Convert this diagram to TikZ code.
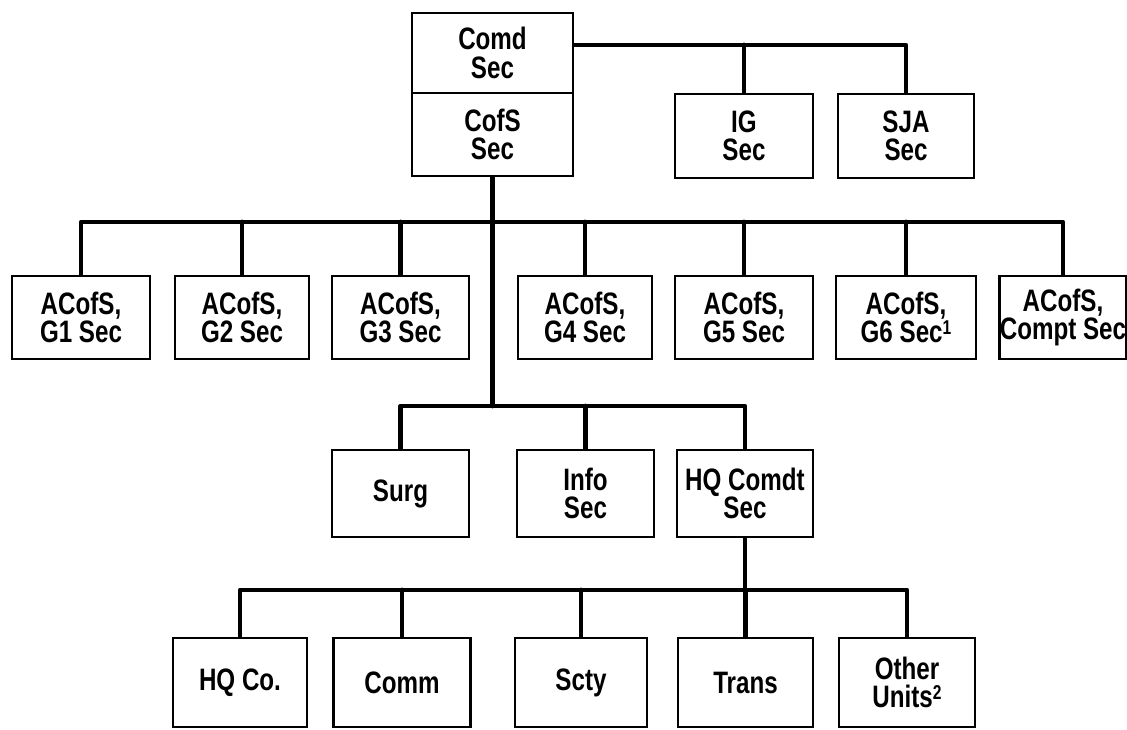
\documentclass[tikz,border=0pt]{standalone}
\usepackage{fontspec}
\setmainfont{Liberation Sans}[FakeStretch=0.78]
\newcommand{\supnum}[1]{\raisebox{8pt}{\fontsize{20}{20}\selectfont #1}}
\begin{document}
\begin{tikzpicture}[x=1pt,y=-1pt,
  box/.style={draw, line width=2.8pt, inner sep=0pt, align=center,
    font=\fontsize{31}{28.5}\selectfont\bfseries},
  conn/.style={line width=4.8pt, line cap=round, line join=round},
  growbox/.style={box, minimum height=83pt},
  lrowbox/.style={box, minimum height=87pt},
  browbox/.style={box, minimum height=89pt}]
\useasboundingbox (0,0) rectangle (1127,730);
% top
\node[box, minimum width=161pt, minimum height=80pt] (comd) at (492.5,53) {Comd\\Sec};
\node[box, minimum width=161pt, minimum height=83pt] (cofs) at (492.5,134.5) {CofS\\Sec};
\node[box, minimum width=138pt, minimum height=84pt] (ig) at (744,136) {IG\\Sec};
\node[box, minimum width=136pt, minimum height=84pt] (sja) at (906,136) {SJA\\Sec};
% G row
\node[growbox, minimum width=138pt] (g1) at (81,317.5) {ACofS,\\G1 Sec};
\node[growbox, minimum width=134pt] (g2) at (242,317.5) {ACofS,\\G2 Sec};
\node[growbox, minimum width=137pt] (g3) at (400.5,317.5) {ACofS,\\G3 Sec};
\node[growbox, minimum width=134pt] (g4) at (585,317.5) {ACofS,\\G4 Sec};
\node[growbox, minimum width=138pt] (g5) at (744,317.5) {ACofS,\\G5 Sec};
\node[growbox, minimum width=140pt] (g6) at (906,317.5) {ACofS,\\G6 Sec\supnum{1}};
\node[growbox, minimum width=126pt] (gc) at (1063,317.5) {ACofS,\\Compt Sec};
% lower row
\node[lrowbox, minimum width=137pt] (surg) at (400.5,493.5) {Surg};
\node[lrowbox, minimum width=137pt] (info) at (585.5,493.5) {Info\\Sec};
\node[lrowbox, minimum width=136pt] (hqc) at (745,493.5) {HQ Comdt\\Sec};
% bottom row
\node[browbox, minimum width=134pt] (hqco) at (240,682.5) {HQ Co.};
\node[browbox, minimum width=137pt] (comm) at (402,682.5) {Comm};
\node[browbox, minimum width=132pt] (scty) at (581,682.5) {Scty};
\node[browbox, minimum width=135pt] (trans) at (745.5,682.5) {Trans};
\node[browbox, minimum width=136pt] (other) at (907,682.5) {Other\\Units\supnum{2}};
% bus coordinates
\coordinate (bustop) at (0,45);
\coordinate (bus1) at (0,222);
\coordinate (bus2) at (0,406);
\coordinate (bus3) at (0,590);
% connectors
\draw[conn] (comd.east |- bustop) -| (sja.north);
\draw[conn] (ig.north) -- (ig.north |- bustop);
\draw[conn] (cofs.south) -- (cofs.south |- bus2);
\draw[conn] (g1.north) |- (gc.north |- bus1) -- (gc.north);
\foreach \n in {g2,g3,g4,g5,g6} \draw[conn] (\n.north) -- (\n.north |- bus1);
\draw[conn] (surg.north) |- (hqc.north |- bus2) -- (hqc.north);
\draw[conn] (info.north) -- (info.north |- bus2);
\draw[conn] (hqc.south) -- (hqc.south |- bus3);
\draw[conn] (hqco.north) |- (other.north |- bus3) -- (other.north);
\foreach \n in {comm,scty,trans} \draw[conn] (\n.north) -- (\n.north |- bus3);
\end{tikzpicture}
\end{document}
